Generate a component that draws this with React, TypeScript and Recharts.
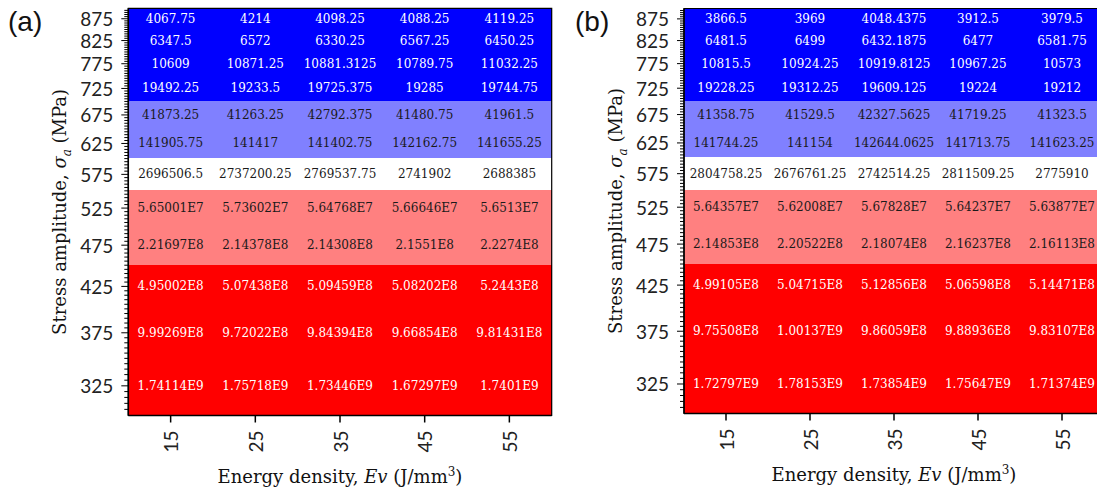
import { ComposedChart, XAxis, YAxis, ReferenceArea, Scatter } from 'recharts';

const energyDensity = [15, 25, 35, 45, 55];
const stressAmplitude = [875, 825, 775, 725, 675, 625, 575, 525, 475, 425, 375, 325];

// fatigue life, one row per stress amplitude (top to bottom), one column per Ev
const lifeA = [
  [4067.75, 4214, 4098.25, 4088.25, 4119.25],
  [6347.5, 6572, 6330.25, 6567.25, 6450.25],
  [10609, 10871.25, 10881.3125, 10789.75, 11032.25],
  [19492.25, 19233.5, 19725.375, 19285, 19744.75],
  [41873.25, 41263.25, 42792.375, 41480.75, 41961.5],
  [141905.75, 141417, 141402.75, 142162.75, 141655.25],
  [2696506.5, 2737200.25, 2769537.75, 2741902, 2688385],
  [5.65001e7, 5.73602e7, 5.64768e7, 5.66646e7, 5.6513e7],
  [2.21697e8, 2.14378e8, 2.14308e8, 2.1551e8, 2.2274e8],
  [4.95002e8, 5.07438e8, 5.09459e8, 5.08202e8, 5.2443e8],
  [9.99269e8, 9.72022e8, 9.84394e8, 9.66854e8, 9.81431e8],
  [1.74114e9, 1.75718e9, 1.73446e9, 1.67297e9, 1.7401e9],
];

const lifeB = [
  [3866.5, 3969, 4048.4375, 3912.5, 3979.5],
  [6481.5, 6499, 6432.1875, 6477, 6581.75],
  [10815.5, 10924.25, 10919.8125, 10967.25, 10573],
  [19228.25, 19312.25, 19609.125, 19224, 19212],
  [41358.75, 41529.5, 42327.5625, 41719.25, 41323.5],
  [141744.25, 141154, 142644.0625, 141713.75, 141623.25],
  [2804758.25, 2676761.25, 2742514.25, 2811509.25, 2775910],
  [5.64357e7, 5.62008e7, 5.67828e7, 5.64237e7, 5.63877e7],
  [2.14853e8, 2.20522e8, 2.18074e8, 2.16237e8, 2.16113e8],
  [4.99105e8, 5.04715e8, 5.12856e8, 5.06598e8, 5.14471e8],
  [9.75508e8, 1.00137e9, 9.86059e8, 9.88936e8, 9.83107e8],
  [1.72797e9, 1.78153e9, 1.73854e9, 1.75647e9, 1.71374e9],
];

// minor ticks every 5 MPa
const minorTicks: number[] = [];
for (let s = 305; s < 900; s += 5) minorTicks.push(s);

const serif = 'DejaVu Serif';
const sans = 'Lato';

function cellColor(v: number) {
  if (v < 3e4) return '#0000ff';
  if (v < 1e6) return '#8080ff';
  if (v < 1e7) return '#ffffff';
  if (v < 3e8) return '#ff8080';
  return '#ff0000';
}

function textColor(fill: string) {
  return fill === '#0000ff' || fill === '#ff0000' ? '#ffffff' : '#1a1a1a';
}

function fmt(v: number) {
  return v >= 1e7 ? v.toExponential().replace('e+', 'E') : String(v);
}

function toCells(life: number[][]) {
  const out: { x: number; y: number; v: number }[] = [];
  stressAmplitude.forEach((s, i) => energyDensity.forEach((e, j) => out.push({ x: e, y: s, v: life[i][j] })));
  return out;
}

function XTick(props: any) {
  const { x, y, payload } = props;
  const ty = y + 15;
  return (
    <g>
      <line x1={x} y1={y} x2={x} y2={y + 7} stroke="#000" strokeWidth={1.5} />
      <text
        x={x}
        y={ty}
        transform={`rotate(-90 ${x} ${ty})`}
        textAnchor="end"
        dominantBaseline="central"
        style={{ fontFamily: sans, fontSize: 19, fill: '#222' }}
      >
        {payload.value}
      </text>
    </g>
  );
}

function YTick(props: any) {
  const { x, y, payload } = props;
  const major = payload.value % 50 === 25;
  return (
    <g>
      <line x1={x - (major ? 7 : 4)} y1={y} x2={x} y2={y} stroke="#000" strokeWidth={1} />
      {major && (
        <text x={x - 15} y={y} textAnchor="end" dominantBaseline="central" style={{ fontFamily: sans, fontSize: 19, fill: '#222' }}>
          {payload.value}
        </text>
      )}
    </g>
  );
}

function XTitle(props: any) {
  const { viewBox } = props;
  const cx = viewBox.x + viewBox.width / 2;
  const by = viewBox.y + 67.5;
  return (
    <text x={cx} y={by} textAnchor="middle" style={{ fontFamily: serif, fontSize: 18, fill: '#111' }}>
      Energy density, <tspan fontStyle="italic">Ev</tspan> (J/mm<tspan dy={-7} style={{ fontSize: 12 }}>3</tspan>
      <tspan dy={7}>)</tspan>
    </text>
  );
}

function YTitle(props: any) {
  const { viewBox } = props;
  const bx = viewBox.x + viewBox.width - 62;
  const cy = viewBox.y + viewBox.height / 2;
  return (
    <text
      x={bx}
      y={cy}
      transform={`rotate(-90 ${bx} ${cy})`}
      textAnchor="middle"
      style={{ fontFamily: serif, fontSize: 18, fill: '#111' }}
    >
      Stress amplitude, <tspan fontStyle="italic">σ</tspan>
      <tspan fontStyle="italic" dy={5} style={{ fontSize: 12 }}>a</tspan>
      <tspan dy={-5}> (MPa)</tspan>
    </text>
  );
}

function CellText(props: any) {
  const { cx, cy, payload } = props;
  const fill = cellColor(payload.v);
  return (
    <text x={cx} y={cy} textAnchor="middle" dominantBaseline="central" style={{ fontFamily: serif, fontSize: 12, fill: textColor(fill) }}>
      {fmt(payload.v)}
    </text>
  );
}

function Panel({ life, width, top, right, yAxisWidth, xAxisHeight }: any) {
  const cells = toCells(life);
  return (
    <ComposedChart width={width} height={491} margin={{ top, right, bottom: 0, left: 0 }}>
      <XAxis
        type="number"
        dataKey="x"
        domain={[10, 60]}
        ticks={energyDensity}
        interval={0}
        height={xAxisHeight}
        tickSize={0}
        tickMargin={0}
        tickLine={false}
        axisLine={{ stroke: '#000', strokeWidth: 1.5 }}
        tick={<XTick />}
        label={<XTitle />}
        allowDataOverflow
      />
      <YAxis
        type="number"
        dataKey="y"
        scale="log"
        domain={[300, 900]}
        ticks={minorTicks}
        interval={0}
        width={yAxisWidth}
        tickSize={0}
        tickMargin={0}
        tickLine={false}
        axisLine={{ stroke: '#000', strokeWidth: 1.5 }}
        tick={<YTick />}
        label={<YTitle />}
        allowDataOverflow
      />
      {cells.map((c) => {
        const fill = cellColor(c.v);
        return (
          <ReferenceArea
            key={`${c.x}-${c.y}`}
            x1={c.x - 5}
            x2={c.x + 5}
            y1={c.y - 25}
            y2={c.y + 25}
            fill={fill}
            fillOpacity={1}
            stroke={fill}
            strokeOpacity={1}
            strokeWidth={1}
            shapeRendering="crispEdges"
            ifOverflow="visible"
          />
        );
      })}
      <Scatter data={cells} dataKey="y" shape={<CellText />} isAnimationActive={false} />
      <ReferenceArea x1={10} x2={60} y1={300} y2={900} fill="none" fillOpacity={0} stroke="#000" strokeWidth={1.2} ifOverflow="visible" />
    </ComposedChart>
  );
}

export default function App() {
  const tag = { position: 'absolute' as const, top: 6, fontFamily: 'Liberation Sans', fontSize: 28, color: '#111' };
  return (
    <div style={{ position: 'absolute', left: 0, top: 0, width: 1097, height: 491, overflow: 'hidden', background: '#fff' }}>
      <div style={{ position: 'absolute', left: 0, top: 0 }}>
        <Panel life={lifeA} width={560} top={8.3} right={8.3} yAxisWidth={128.3} xAxisHeight={75.5} />
      </div>
      <div style={{ position: 'absolute', left: 560, top: 0 }}>
        <Panel life={lifeB} width={560} top={8.5} right={16} yAxisWidth={124} xAxisHeight={77.5} />
      </div>
      <div style={{ ...tag, left: 8 }}>(a)</div>
      <div style={{ ...tag, left: 575 }}>(b)</div>
    </div>
  );
}
